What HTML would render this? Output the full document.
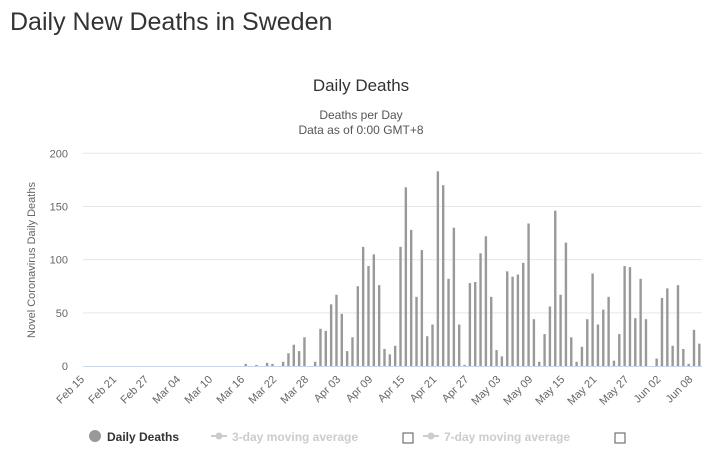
<!DOCTYPE html>
<html><head><meta charset="utf-8"><style>
body{margin:0;background:#fff;font-family:"Liberation Sans",sans-serif;}
#wrap{position:relative;width:712px;height:467px;overflow:hidden}
h1{position:absolute;left:10px;top:8px;margin:0;font-weight:normal;font-size:25px;color:#333;}
</style></head><body>
<div id="wrap">
<h1>Daily New Deaths in Sweden</h1>
<svg id="chart" width="712" height="467" style="position:absolute;left:0;top:0"></svg>
</div>
<script>
const startDate = [2020, 1, 15];
const nDays = 116;
const dayIdx = [30,32,34,35];
const dayVals = [2,1,3,2];
const seriesStart = 37;
const deaths = [4,12,20,14,27,0,4,35,33,58,67,49,14,27,75,112,94,105,76,16,11,19,112,168,128,65,109,28,39,183,170,82,130,39,1,78,
79,106,122,65,15,9,89,84,86,97,134,44,4,30,56,146,67,116,27,4,18,44,87,39,53,65,5,30,94,93,45,82,44,0,7,64,73,19,76,16,2,34,21];
const yTicks = [0,50,100,150,200];
const months = ["Jan","Feb","Mar","Apr","May","Jun"];

const NS="http://www.w3.org/2000/svg";
const svg=document.getElementById('chart');
const X0=83,X1=702,Y0=366,Y1=153.3,YMAX=200;
const bw=(X1-X0)/nDays;
function xs(i){return X0+bw*(i+0.5);}
function ys(v){return Y0-(Y0-Y1)*v/YMAX;}
function mk(t,a,txt){const e=document.createElementNS(NS,t);for(const k in a)e.setAttribute(k,a[k]);if(txt!==undefined)e.textContent=txt;svg.appendChild(e);return e;}
function lbl(i){const d=new Date(startDate[0],startDate[1],startDate[2]+i);return months[d.getMonth()]+" "+String(d.getDate()).padStart(2,"0");}

let t=mk('text',{x:361,y:91,'text-anchor':'middle','font-size':17,fill:'#333'},'Daily Deaths');


t=mk('text',{x:361,y:119,'text-anchor':'middle','font-size':12,fill:'#555'},'Deaths per Day');


t=mk('text',{x:361,y:134,'text-anchor':'middle','font-size':12,fill:'#555'},'Data as of 0:00 GMT+8');



yTicks.forEach(v=>{
  if(v>0){const g=mk('line',{x1:X0,x2:X1,y1:ys(v),y2:ys(v),stroke:'#e6e6e6','stroke-width':1});
  
  }
  const l=mk('text',{x:68,y:ys(v)+4,'text-anchor':'end','font-size':11,fill:'#666'},String(v));
  
  
});
t=mk('text',{x:0,y:0,transform:'translate(35,260) rotate(-90)','text-anchor':'middle','font-size':11,fill:'#666'},'Novel Coronavirus Daily Deaths');



const vals=new Array(nDays).fill(0);
dayIdx.forEach((d,k)=>vals[d]=dayVals[k]);
deaths.forEach((v,k)=>vals[seriesStart+k]=v);
vals.forEach((v,i)=>{
  if(v<=0)return;
  const r=mk('rect',{x:xs(i)-1.2,y:ys(v),width:2.4,height:Y0-ys(v),fill:'#999'});
  
  
});
t=mk('line',{x1:X0,x2:X1,y1:Y0+0.5,y2:Y0+0.5,stroke:'#ccd6eb','stroke-width':1});



for(let i=0;i<nDays;i+=6){
  const x=xs(i)-bw/2+2;
  const l=mk('text',{x:0,y:0,transform:`translate(${x},${Y0+14}) rotate(-45)`,'text-anchor':'end','font-size':11,fill:'#666'},lbl(i));
  
  
}

// legend
t=mk('circle',{cx:95,cy:436,r:6,fill:'#999'});


t=mk('text',{x:107,y:441,'font-size':12,'font-weight':'bold',fill:'#333'},'Daily Deaths');


[[211,'3-day moving average',403],[423,'7-day moving average',615]].forEach(([x,s,bx],k)=>{
  let e=mk('line',{x1:x,x2:x+16,y1:436,y2:436,stroke:'#ccc','stroke-width':2});
  
  
  e=mk('circle',{cx:x+8,cy:436,r:3.5,fill:'#ccc'});
  
  
  e=mk('text',{x:x+21,y:441,'font-size':12,'font-weight':'bold',fill:'#ccc'},s);
  
  
  e=mk('rect',{x:bx,y:433,width:10,height:10,fill:'#fff',stroke:'#555','stroke-width':1});
  
  
});
</script>
</body></html>
